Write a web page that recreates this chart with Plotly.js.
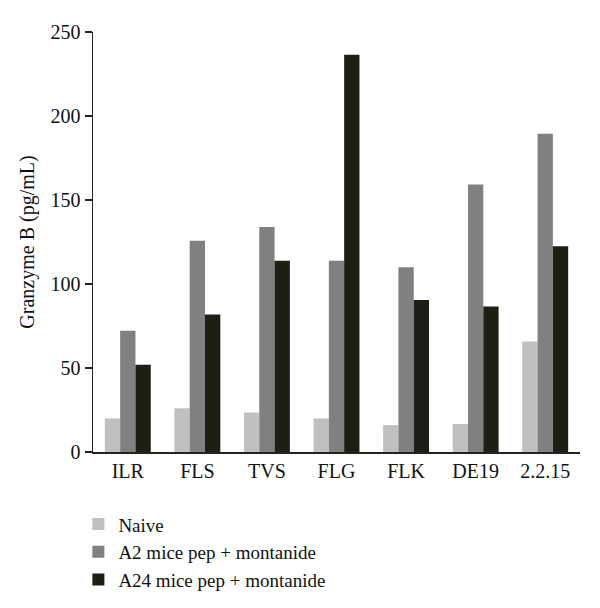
<!DOCTYPE html>
<html>
<head>
<meta charset="utf-8">
<script src="https://cdn.plot.ly/plotly-3.0.1.min.js"></script>
<style>
  body { margin: 0; background: #fff; }
  #chart { width: 600px; height: 608px; }
</style>
</head>
<body>
<div id="chart"></div>
<script>
// peptides on the x axis
var peptides = ['ILR', 'FLS', 'TVS', 'FLG', 'FLK', 'DE19', '2.2.15'];

// granzyme B (pg/mL)
var naive = [20, 26, 23.5, 20, 16, 16.7, 65.7];
var a2Mice = [72.2, 125.8, 134, 113.8, 110, 159.3, 189.5];
var a24Mice = [52, 81.8, 113.8, 236.5, 90.5, 86.6, 122.5];

var fontFam = '"Liberation Serif", "DejaVu Serif", serif';

var trace1 = {
	x: peptides,
	y: naive,
	type: 'bar',
	name: 'Naive',
	marker: {color: '#c0c0c0'}
};

var trace2 = {
	x: peptides,
	y: a2Mice,
	type: 'bar',
	name: 'A2 mice pep + montanide',
	marker: {color: '#808080'}
};

var trace3 = {
	x: peptides,
	y: a24Mice,
	type: 'bar',
	name: 'A24 mice pep + montanide',
	marker: {color: '#1f1e14'}
};

var layout = {
	width: 600,
	height: 608,
	margin: {l: 93, r: 20, t: 32, b: 156},
	paper_bgcolor: '#ffffff',
	plot_bgcolor: '#ffffff',
	font: {family: fontFam, size: 20, color: '#111'},
	barmode: 'group',
	bargap: 0.34,
	bargroupgap: 0,
	showlegend: true,
	legend: {
		x: -0.03,
		xref: 'paper',
		y: 0.169,
		yref: 'container',
		xanchor: 'left',
		yanchor: 'top',
		orientation: 'v',
		tracegroupgap: 0,
		font: {family: fontFam, size: 19, color: '#111'},
		bgcolor: 'rgba(0,0,0,0)'
	},
	xaxis: {
		range: [-0.5, 6.5],
		showline: true,
		linecolor: '#222',
		linewidth: 1.5,
		ticks: '',
		showgrid: false,
		zeroline: false,
		automargin: false,
		tickfont: {family: fontFam, size: 20, color: '#111'}
	},
	yaxis: {
		range: [0, 250],
		tickvals: [0, 50, 100, 150, 200, 250],
		showline: true,
		linecolor: '#222',
		linewidth: 1.5,
		ticks: 'outside',
		ticklen: 7,
		tickwidth: 1.5,
		tickcolor: '#222',
		showgrid: false,
		zeroline: false,
		automargin: false,
		tickfont: {family: fontFam, size: 20, color: '#111'},
		title: {
			text: 'Granzyme B (pg/mL)',
			font: {family: fontFam, size: 20, color: '#111'},
			standoff: 10
		}
	}
};

var pdata = [trace1, trace2, trace3];
Plotly.newPlot('chart', pdata, layout, {displayModeBar: false, staticPlot: true});
</script>
</body>
</html>
